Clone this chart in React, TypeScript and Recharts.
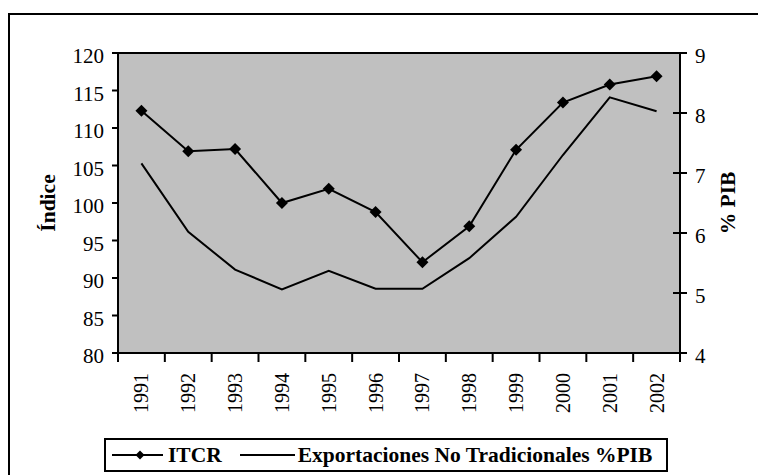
import React from "react";
import { Legend, Line, LineChart, ReferenceArea, XAxis, YAxis } from "recharts";

const years = ["1991", "1992", "1993", "1994", "1995", "1996", "1997", "1998", "1999", "2000", "2001", "2002"];
const itcr = [112.3, 106.9, 107.2, 100.0, 101.9, 98.8, 92.1, 96.9, 107.1, 113.4, 115.8, 116.9];
const exportsPib = [7.16, 6.02, 5.39, 5.06, 5.37, 5.07, 5.07, 5.58, 6.27, 7.3, 8.26, 8.03];
const leftTicks = [80, 85, 90, 95, 100, 105, 110, 115, 120];
const rightTicks = [4, 5, 6, 7, 8, 9];

const FONT = '"Liberation Serif", "Times New Roman", serif';

// each year sits in the middle of its slot; integer positions are slot edges
const data = years.map((year, i) => ({ pos: i + 0.5, year, itcr: itcr[i], exp: exportsPib[i] }));
const xTicks: number[] = [];
for (let i = 0; i <= years.length; i++) {
  xTicks.push(i);
  if (i < years.length) xTicks.push(i + 0.5);
}

const diamond = (cx: number, cy: number, r: number) =>
  `M${cx},${cy - r}L${cx + r},${cy}L${cx},${cy + r}L${cx - r},${cy}Z`;

function YearTick(props: any) {
  const { x, y, payload } = props;
  const v = payload.value as number;
  if (Number.isInteger(v)) {
    return <line x1={x} y1={y} x2={x} y2={y + 9} stroke="#000" strokeWidth={2} />;
  }
  const label = years[Math.floor(v)];
  const ty = y + 20;
  return (
    <text
      x={x}
      y={ty}
      dy={7}
      transform={`rotate(-90, ${x}, ${ty})`}
      textAnchor="end"
      fontFamily={FONT}
      fontSize={20}
      fill="#000"
    >
      {label}
    </text>
  );
}

function LeftTick(props: any) {
  const { x, y, payload } = props;
  return (
    <text x={x} y={y} dy={10} textAnchor="end" fontFamily={FONT} fontSize={21} fill="#000">
      {payload.value}
    </text>
  );
}

function RightTick(props: any) {
  const { x, y, payload } = props;
  return (
    <g>
      <line x1={x - 7} y1={y} x2={x + 7} y2={y} stroke="#000" strokeWidth={2} />
      <text x={x + 15} y={y} dy={10} textAnchor="start" fontFamily={FONT} fontSize={21} fill="#000">
        {payload.value}
      </text>
    </g>
  );
}

function AxisTitle(props: any) {
  const { viewBox, value, shift } = props;
  const cx = viewBox.x + shift;
  const cy = viewBox.y + viewBox.height / 2;
  return (
    <text
      x={cx}
      y={cy}
      transform={`rotate(-90, ${cx}, ${cy})`}
      textAnchor="middle"
      dominantBaseline="central"
      fontFamily={FONT}
      fontWeight="bold"
      fontSize={21.5}
      fill="#000"
    >
      {value}
    </text>
  );
}

function LegendBox() {
  return (
    <div
      style={{
        boxSizing: "border-box",
        width: 564,
        height: 34,
        border: "2px solid #000",
        background: "#fff",
        display: "flex",
        alignItems: "center",
        paddingLeft: 6,
        fontFamily: FONT,
        fontWeight: "bold",
        fontSize: 21.5,
        color: "#000",
        whiteSpace: "nowrap"
      }}
    >
      <svg width={51} height={14} style={{ display: "block" }}>
        <line x1={0} y1={7} x2={51} y2={7} stroke="#000" strokeWidth={2} />
        <path d={diamond(28, 7, 4.5)} fill="#000" />
      </svg>
      <span style={{ marginLeft: 5 }}>ITCR</span>
      <svg width={55} height={14} style={{ display: "block", marginLeft: 18 }}>
        <line x1={0} y1={7} x2={55} y2={7} stroke="#000" strokeWidth={2} />
      </svg>
      <span style={{ marginLeft: 3 }}>Exportaciones No Tradicionales %PIB</span>
    </div>
  );
}

export default function App() {
  return (
    <div style={{ position: "fixed", left: 0, top: 0, width: 758, height: 475, overflow: "hidden", background: "#fff" }}>
      <div
        style={{
          position: "absolute",
          left: 7.5,
          top: 12.5,
          width: 780,
          height: 460,
          borderLeft: "2px solid #000",
          borderTop: "2px solid #000"
        }}
      />
      <div style={{ position: "absolute", left: 0, top: 0 }}>
        <LineChart width={758} height={475} data={data} margin={{ top: 53, right: 10, bottom: 3, left: 30 }}>
          <XAxis
            dataKey="pos"
            type="number"
            domain={[0, years.length]}
            ticks={xTicks}
            interval={0}
            tickLine={false}
            tickSize={0}
            tickMargin={0}
            axisLine={{ stroke: "#000", strokeWidth: 2 }}
            tick={<YearTick />}
            height={85}
          />
          <YAxis
            yAxisId="left"
            domain={[80, 120]}
            ticks={leftTicks}
            interval={0}
            width={88}
            tickSize={6}
            tickMargin={8}
            tickLine={{ stroke: "#000", strokeWidth: 2 }}
            axisLine={{ stroke: "#000", strokeWidth: 2 }}
            tick={<LeftTick />}
            label={<AxisTitle value="Índice" shift={18} />}
          />
          <YAxis
            yAxisId="right"
            orientation="right"
            domain={[4, 9]}
            ticks={rightTicks}
            interval={0}
            width={68}
            tickSize={0}
            tickMargin={0}
            tickLine={false}
            axisLine={{ stroke: "#000", strokeWidth: 2 }}
            tick={<RightTick />}
            label={<AxisTitle value="% PIB" shift={48} />}
          />
          <ReferenceArea
            yAxisId="left"
            y1={80}
            y2={120}
            fill="#c0c0c0"
            fillOpacity={1}
            stroke="#000"
            strokeWidth={2}
          />
          <Legend
            verticalAlign="bottom"
            align="left"
            height={34}
            wrapperStyle={{ left: 104, bottom: 3, width: 564 }}
            content={() => <LegendBox />}
          />
          <Line
            yAxisId="right"
            dataKey="exp"
            type="linear"
            stroke="#000"
            strokeWidth={2}
            dot={false}
            activeDot={false}
            isAnimationActive={false}
          />
          <Line
            yAxisId="left"
            dataKey="itcr"
            type="linear"
            stroke="#000"
            strokeWidth={2}
            dot={(p: any) => <path key={`itcr-${p.index}`} d={diamond(p.cx, p.cy, 6)} fill="#000" />}
            activeDot={false}
            isAnimationActive={false}
          />
        </LineChart>
      </div>
    </div>
  );
}
